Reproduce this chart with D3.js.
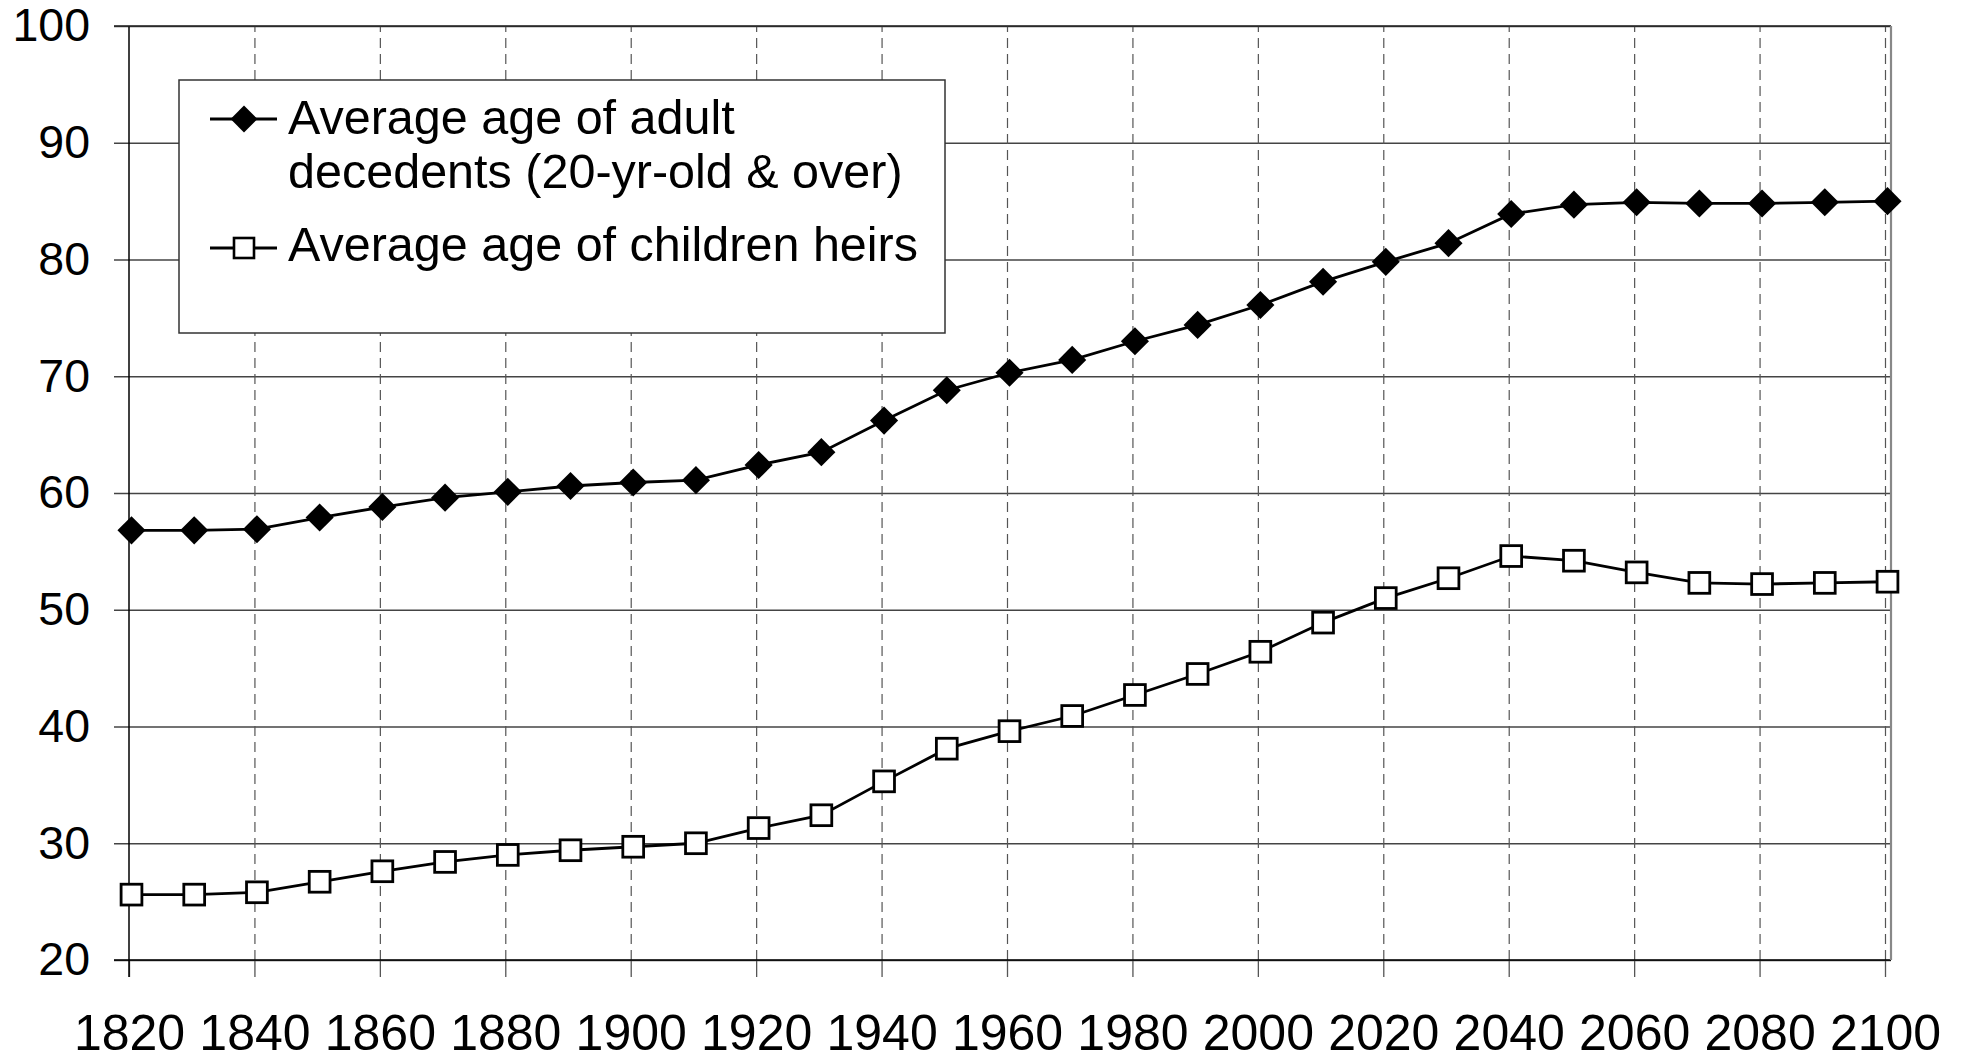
<!DOCTYPE html>
<html><head><meta charset="utf-8">
<script src="https://cdn.jsdelivr.net/npm/d3@7"></script>
<style>
body{margin:0;background:#fff}
svg{display:block}
text{font-family:"Liberation Sans",Arial,Helvetica,sans-serif;fill:#000}
</style>
</head><body>
<svg id="c" width="1964" height="1063"></svg>
<script>
// ---- data ----
const years = [1820,1830,1840,1850,1860,1870,1880,1890,1900,1910,1920,1930,1940,1950,1960,1970,1980,1990,2000,2010,2020,2030,2040,2050,2060,2070,2080,2090,2100];
const decedentsAge = [56.8,56.8,56.9,57.9,58.8,59.6,60.1,60.6,60.9,61.1,62.4,63.5,66.2,68.8,70.3,71.4,73.0,74.4,76.1,78.1,79.8,81.4,83.9,84.7,84.9,84.8,84.8,84.9,85.0];
const heirsAge = [25.6,25.6,25.8,26.7,27.6,28.4,29.0,29.4,29.7,30.0,31.3,32.4,35.3,38.1,39.6,40.9,42.7,44.5,46.4,48.9,51.0,52.7,54.6,54.2,53.2,52.3,52.2,52.3,52.4];
const xTicks = [1820,1840,1860,1880,1900,1920,1940,1960,1980,2000,2020,2040,2060,2080,2100];
const yTicks = [20,30,40,50,60,70,80,90,100];
const legendLines1 = ["Average age of adult","decedents (20-yr-old & over)"];
const legendLines2 = ["Average age of children heirs"];

// ---- layout ----
const pLeft = 129, pRight = 1885, frameRight = 1891, pTop = 26, pBottom = 960, tickOut = 15;
const svg = d3.select("#c");
const x = d3.scaleLinear().domain([1820,2100]).range([pLeft,pRight]);
const y = d3.scaleLinear().domain([20,100]).range([pBottom,pTop]);

// horizontal gridlines (extend left as tick marks)
const gy = svg.append("g").attr("transform",`translate(${pLeft-tickOut},0)`)
  .call(d3.axisLeft(y).tickValues(yTicks).tickSize(-(frameRight-pLeft+tickOut)).tickFormat(""));
gy.select(".domain").remove();
gy.selectAll(".tick line").attr("stroke","#444").attr("stroke-width",1.3);

// vertical dashed gridlines
const gx = svg.append("g").attr("transform",`translate(0,${pBottom})`)
  .call(d3.axisBottom(x).tickValues(xTicks.slice(1)).tickSize(-(pBottom-pTop)).tickFormat(""));
gx.select(".domain").remove();
gx.selectAll(".tick line").attr("stroke","#555").attr("stroke-width",1.2).attr("stroke-dasharray","10,6");

// x tick marks below axis
const gxt = svg.append("g").attr("transform",`translate(0,${pBottom})`)
  .call(d3.axisBottom(x).tickValues(xTicks).tickSize(17).tickFormat(""));
gxt.select(".domain").remove();
gxt.selectAll(".tick line").attr("stroke","#555").attr("stroke-width",1.3);

// frame
svg.append("line").attr("x1",pLeft).attr("x2",pLeft).attr("y1",pTop).attr("y2",pBottom+17).attr("stroke","#000").attr("stroke-width",1.5);
svg.append("line").attr("x1",pLeft-tickOut).attr("x2",frameRight).attr("y1",pBottom).attr("y2",pBottom).attr("stroke","#000").attr("stroke-width",1.5);
svg.append("line").attr("x1",pLeft-tickOut).attr("x2",frameRight).attr("y1",pTop).attr("y2",pTop).attr("stroke","#222").attr("stroke-width",1.5);
svg.append("line").attr("x1",frameRight).attr("x2",frameRight).attr("y1",pTop).attr("y2",pBottom).attr("stroke","#888").attr("stroke-width",2.2);

// y labels
const yl = svg.append("g").attr("transform",`translate(${pLeft},0)`)
  .call(d3.axisLeft(y).tickValues(yTicks).tickSize(0).tickPadding(39));
yl.select(".domain").remove();
yl.selectAll("text").attr("font-size",46.5).attr("font-family",null).style("font-family","'Liberation Sans',Arial,sans-serif");

// x labels
const xl = svg.append("g").attr("transform",`translate(0,${pBottom})`)
  .call(d3.axisBottom(x).tickValues(xTicks).tickSize(0).tickPadding(54).tickFormat(d3.format("d")));
xl.select(".domain").remove();
xl.selectAll("text").attr("font-size",50).attr("font-family",null).style("font-family","'Liberation Sans',Arial,sans-serif");

// series
const series = svg.append("g").attr("transform","translate(2.5,0)");
const line = d3.line().x((d,i)=>x(years[i])).y(d=>y(d));
series.append("path").datum(decedentsAge).attr("d",line).attr("fill","none").attr("stroke","#000").attr("stroke-width",2.8);
series.append("path").datum(heirsAge).attr("d",line).attr("fill","none").attr("stroke","#000").attr("stroke-width",2.8);
const diamond = d3.symbol().type(d3.symbolSquare).size(395);
series.selectAll(".dia").data(decedentsAge).join("path").attr("class","dia")
  .attr("d",diamond).attr("transform",(d,i)=>`translate(${x(years[i])},${y(d)}) rotate(45)`).attr("fill","#000");
series.selectAll(".sq").data(heirsAge).join("rect").attr("class","sq")
  .attr("x",(d,i)=>x(years[i])-10.4).attr("y",d=>y(d)-10.4).attr("width",20.8).attr("height",20.8)
  .attr("fill","#fff").attr("stroke","#000").attr("stroke-width",2.8);

// legend
const lg = svg.append("g").attr("transform","translate(179,80)");
lg.append("rect").attr("x",0).attr("y",0).attr("width",766).attr("height",253).attr("fill","#fff").attr("stroke","#333").attr("stroke-width",1.5);
lg.append("line").attr("x1",31).attr("x2",98).attr("y1",39).attr("y2",39).attr("stroke","#000").attr("stroke-width",2.8);
lg.append("path").attr("d",d3.symbol().type(d3.symbolSquare).size(360)).attr("transform","translate(65,39) rotate(45)").attr("fill","#000");
lg.append("line").attr("x1",31).attr("x2",98).attr("y1",168).attr("y2",168).attr("stroke","#000").attr("stroke-width",2.8);
lg.append("rect").attr("x",55).attr("y",158).attr("width",20).attr("height",20).attr("fill","#fff").attr("stroke","#000").attr("stroke-width",2.6);
lg.selectAll(".l1").data(legendLines1).join("text").attr("class","l1")
  .attr("x",109).attr("y",(d,i)=>54+i*54).attr("font-size",48.5).text(d=>d);
lg.selectAll(".l2").data(legendLines2).join("text").attr("class","l2")
  .attr("x",109).attr("y",181).attr("font-size",48.5).text(d=>d);
</script>
</body></html>
